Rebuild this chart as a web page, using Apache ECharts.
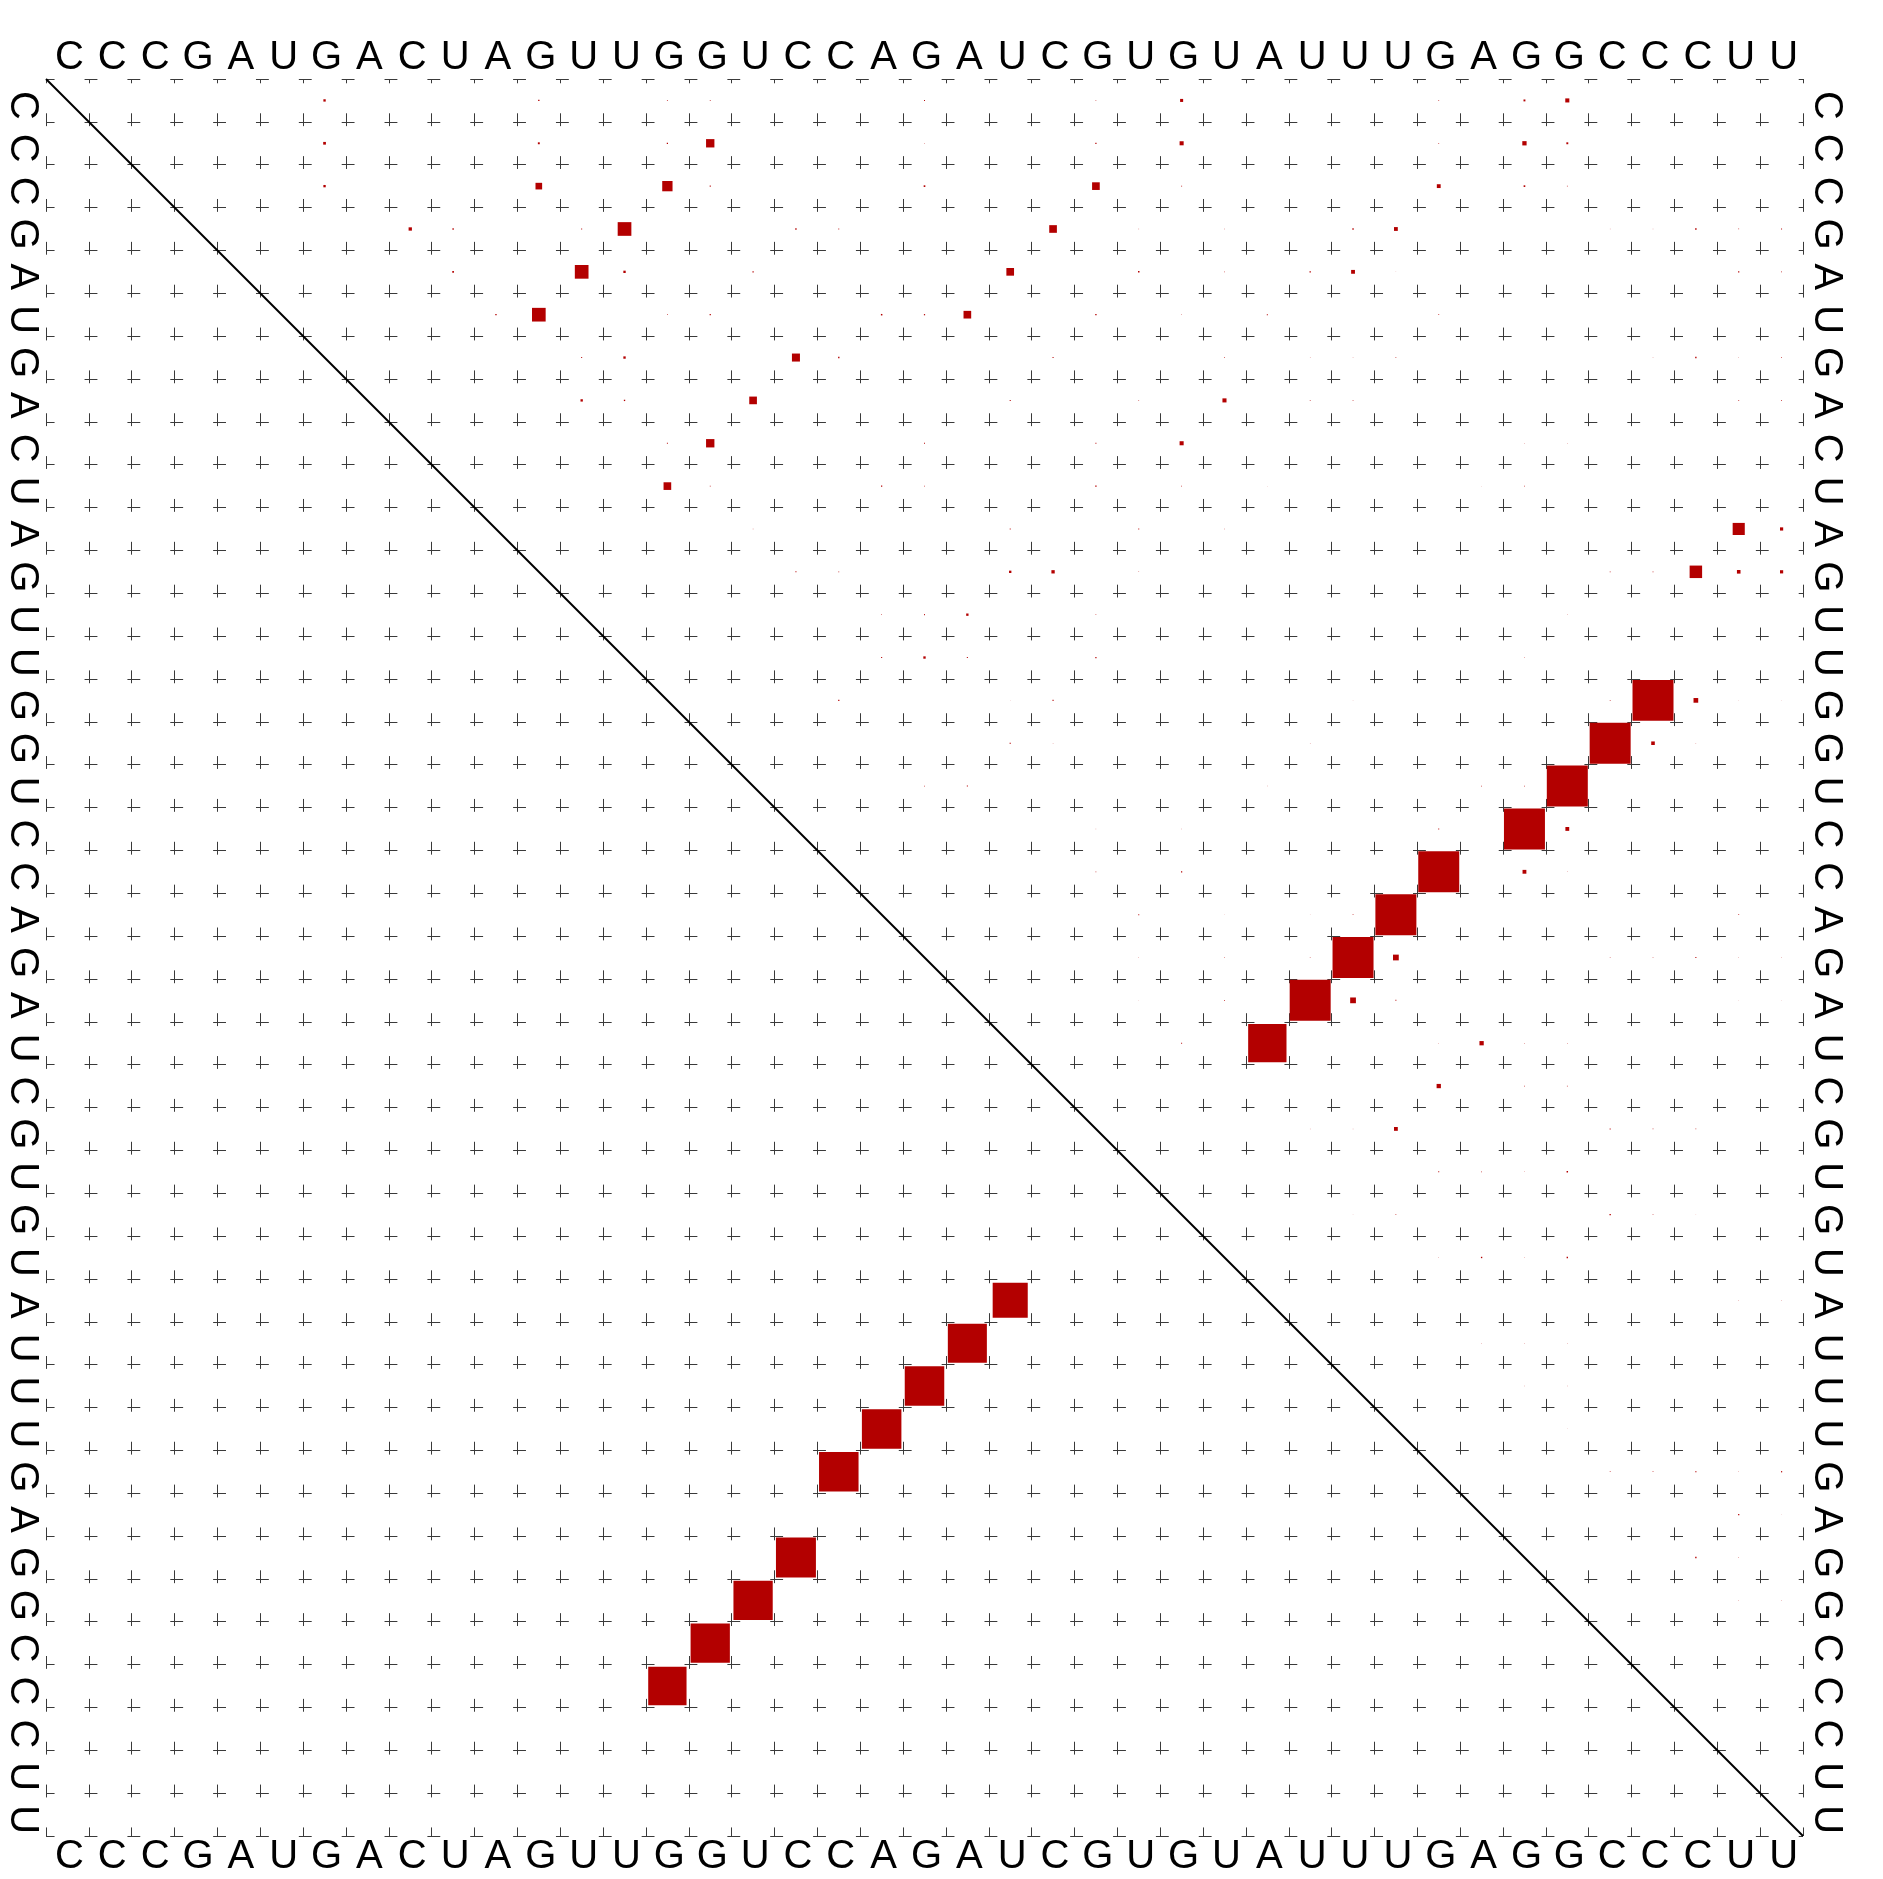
<!DOCTYPE html>
<html><head><meta charset="utf-8">
<script src="https://cdn.jsdelivr.net/npm/echarts@6/dist/echarts.min.js"></script>
<style>html,body{margin:0;padding:0;background:#fff}#c{width:1883px;height:1879px}</style>
</head><body><div id="c"></div><script>
// RNA sequence (labels on all four sides)
const sequence = "CCCGAUGACUAGUUGGUCCAGAUCGUGUAUUUGAGGCCCUU".split('');

// Upper triangle: base-pair probabilities [i, j, p] (i < j), box side = sqrt(p) * cell
const pairProbs = [
  [1,7,0.003],[1,12,0.001],[1,15,0.0004],[1,16,0.0004],[1,21,0.0005],[1,25,0.0002],[1,27,0.005],[1,33,0.0003],[1,35,0.002],[1,36,0.009],
  [2,7,0.004],[2,12,0.002],[2,15,0.0008],[2,16,0.038],[2,21,0.0002],[2,25,0.0008],[2,27,0.009],[2,33,0.0003],[2,35,0.01],[2,36,0.002],
  [3,7,0.003],[3,12,0.024],[3,15,0.058],[3,16,0.0006],[3,21,0.0015],[3,25,0.032],[3,27,0.0005],[3,33,0.008],[3,35,0.0015],[3,36,0.0003],
  [4,9,0.006],[4,10,0.001],[4,13,0.0005],[4,14,0.102],[4,18,0.001],[4,19,0.0004],[4,24,0.032],[4,26,0.0002],[4,28,0.0002],[4,31,0.001],[4,32,0.008],[4,37,0.0001],[4,38,0.0001],[4,39,0.0012],[4,40,0.0003],[4,41,0.0005],
  [5,10,0.0015],[5,13,0.102],[5,14,0.003],[5,17,0.0008],[5,23,0.032],[5,26,0.0012],[5,28,0.0002],[5,30,0.001],[5,31,0.008],[5,32,0.0001],[5,40,0.0008],[5,41,0.0004],
  [6,11,0.001],[6,12,0.102],[6,15,0.0003],[6,16,0.0008],[6,20,0.0012],[6,21,0.0008],[6,22,0.032],[6,25,0.001],[6,27,0.0002],[6,29,0.0006],[6,33,0.0004],
  [7,13,0.0005],[7,14,0.003],[7,18,0.035],[7,19,0.001],[7,24,0.0006],[7,28,0.0003],[7,30,0.0001],[7,31,0.0001],[7,32,0.0003],[7,38,0.0001],[7,39,0.001],[7,40,0.0001],[7,41,0.0003],
  [8,13,0.003],[8,14,0.001],[8,17,0.032],[8,23,0.0006],[8,26,0.0002],[8,28,0.009],[8,30,0.0003],[8,31,0.0003],[8,40,0.0004],[8,41,0.0004],
  [9,15,0.0005],[9,16,0.038],[9,21,0.0005],[9,25,0.0005],[9,27,0.009],[9,35,0.0001],[9,36,0.0001],
  [10,15,0.032],[10,16,0.0004],[10,20,0.0008],[10,21,0.0003],[10,25,0.001],[10,27,0.0003],[10,29,0.0001],[10,34,0.0001],[10,35,0.0003],
  [11,17,0.0002],[11,23,0.0005],[11,26,0.0005],[11,28,0.0002],[11,40,0.08],[11,41,0.0056],
  [12,18,0.0006],[12,19,0.0004],[12,23,0.003],[12,24,0.006],[12,26,0.0002],[12,37,0.0004],[12,38,0.0004],[12,39,0.085],[12,40,0.007],[12,41,0.0056],
  [13,20,0.0002],[13,21,0.0006],[13,22,0.003],[13,25,0.0002],[13,36,0.0001],
  [14,20,0.0006],[14,21,0.003],[14,22,0.0006],[14,25,0.0008],[14,35,0.0002],
  [15,19,0.0008],[15,23,0.0001],[15,24,0.0006],[15,31,0.0001],[15,37,0.0003],[15,38,0.915],[15,39,0.012],[15,40,0.0001],[15,41,0.0001],
  [16,23,0.0008],[16,24,0.0001],[16,30,0.0001],[16,37,0.915],[16,38,0.007],[16,39,0.0001],
  [17,21,0.0003],[17,22,0.0006],[17,29,0.0001],[17,34,0.0003],[17,35,0.0003],[17,36,0.915],
  [18,25,0.0001],[18,27,0.0001],[18,33,0.0005],[18,35,0.915],[18,36,0.008],
  [19,25,0.0003],[19,27,0.0008],[19,33,0.915],[19,35,0.008],[19,36,0.0001],
  [20,26,0.0005],[20,28,0.0001],[20,30,0.0001],[20,31,0.0003],[20,32,0.915],[20,40,0.0004],
  [21,26,0.0001],[21,28,0.0003],[21,30,0.0003],[21,31,0.915],[21,32,0.018],[21,37,0.0003],[21,38,0.0003],[21,39,0.0006],[21,40,0.0001],[21,41,0.0001],
  [22,26,0.0001],[22,28,0.0004],[22,30,0.915],[22,31,0.018],[22,32,0.0005],[22,40,0.0001],[22,41,0.0001],
  [23,27,0.0005],[23,29,0.80],[23,33,0.0001],[23,34,0.01],[23,35,0.0002],[23,36,0.0002],
  [24,33,0.01],[24,35,0.0003],[24,36,0.0003],
  [25,30,0.0001],[25,31,0.0001],[25,32,0.008],[25,37,0.0006],[25,38,0.0003],[25,39,0.0003],
  [26,33,0.0005],[26,34,0.0003],[26,35,0.0001],[26,36,0.0012],
  [27,31,0.0001],[27,32,0.0003],[27,37,0.001],[27,38,0.0002],[27,39,0.0001],
  [28,33,0.0001],[28,34,0.001],[28,35,0.0001],[28,36,0.001],
  [29,40,0.0001],[29,41,0.0001],
  [30,34,0.0001],[30,35,0.0001],[30,36,0.0001],
  [31,35,0.0001],[31,36,0.0001],
  [32,36,0.0001],
  [33,37,0.0003],[33,38,0.0003],[33,39,0.0008],[33,40,0.0001],[33,41,0.0008],
  [34,40,0.0008],[34,41,0.0001],
  [35,39,0.001],[35,40,0.0002],
  [36,40,0.0001],[36,41,0.0001]
];

// Lower triangle: structure pairs [i, j, p] drawn at (column i, row j)
const structurePairs = [
  [15,38,0.80],[16,37,0.84],[17,36,0.84],[18,35,0.87],[19,33,0.85],
  [20,32,0.85],[21,31,0.85],[22,30,0.83],[23,29,0.67]
];

const N = sequence.length;
const BOX = '#b30000';
const FONT = 'Liberation Sans';

function boxRenderer(upper) {
  return function (params, api) {
    const i = api.value(0), j = api.value(1), p = api.value(2);
    const col = upper ? j : i, row = upper ? i : j;
    const c = api.coord([col - 0.5, row - 0.5]);
    const cell = api.size([1, 1])[0];
    const s = Math.sqrt(p) * cell;
    return { type: 'rect', shape: { x: c[0] - s / 2, y: c[1] - s / 2, width: s, height: s },
             style: { fill: BOX } };
  };
}

const chart = echarts.init(document.getElementById('c'), null, { renderer: 'canvas' });
const gridW = 1757;
const cellPx = gridW / N;
const labelBase = { fontSize: 40, fontFamily: FONT, color: '#000', interval: 0, hideOverlap: false };
const GRIDC = '#3a3a3a';

chart.setOption({
  animation: false,
  backgroundColor: '#fff',
  grid: { left: 46, top: 79, width: gridW, height: gridW, containLabel: false, outerBoundsMode: 'none' },
  xAxis: [
    { type: 'value', min: 0, max: N, interval: 1, position: 'bottom',
      axisLine: { show: false }, axisTick: { show: false }, axisLabel: { show: false },
      splitLine: { show: true, lineStyle: { color: GRIDC, width: 1, type: [0.3 * cellPx, 0.7 * cellPx], dashOffset: 0.2 * cellPx } } },
    { type: 'category', data: sequence, position: 'top', boundaryGap: true,
      axisLine: { show: false }, axisTick: { show: false }, splitLine: { show: false },
      axisLabel: Object.assign({ margin: 1, padding: [0, 0, 0, 4] }, labelBase) },
    { type: 'category', data: sequence, position: 'bottom', boundaryGap: true,
      axisLine: { show: false }, axisTick: { show: false }, splitLine: { show: false },
      axisLabel: Object.assign({ margin: 1, padding: [0, 0, 0, 4] }, labelBase) }
  ],
  yAxis: [
    { type: 'value', min: 0, max: N, interval: 1, inverse: true, position: 'left',
      axisLine: { show: false }, axisTick: { show: false }, axisLabel: { show: false },
      splitLine: { show: true, lineStyle: { color: GRIDC, width: 1, type: [0.3 * cellPx, 0.7 * cellPx], dashOffset: 0.1 * cellPx } } },
    { type: 'category', data: sequence, position: 'left', inverse: true, boundaryGap: true,
      axisLine: { show: false }, axisTick: { show: false }, splitLine: { show: false },
      axisLabel: Object.assign({ margin: 4, rotate: -90, padding: [0, 0, 0, 10] }, labelBase) },
    { type: 'category', data: sequence, position: 'right', inverse: true, boundaryGap: true,
      axisLine: { show: false }, axisTick: { show: false }, splitLine: { show: false },
      axisLabel: Object.assign({ margin: 3, rotate: -90, padding: [0, 0, 0, 10] }, labelBase) }
  ],
  series: [
    { type: 'line', xAxisIndex: 0, yAxisIndex: 0, data: [[0, 0], [N, N]], symbol: 'none', silent: true,
      lineStyle: { color: '#000', width: 2 }, z: 3 },
    { type: 'custom', xAxisIndex: 0, yAxisIndex: 0, data: pairProbs, renderItem: boxRenderer(true),
      encode: { x: 1, y: 0 }, clip: false, silent: true, z: 4 },
    { type: 'custom', xAxisIndex: 0, yAxisIndex: 0, data: structurePairs, renderItem: boxRenderer(false),
      encode: { x: 0, y: 1 }, clip: false, silent: true, z: 4 }
  ]
});
</script></body></html>
